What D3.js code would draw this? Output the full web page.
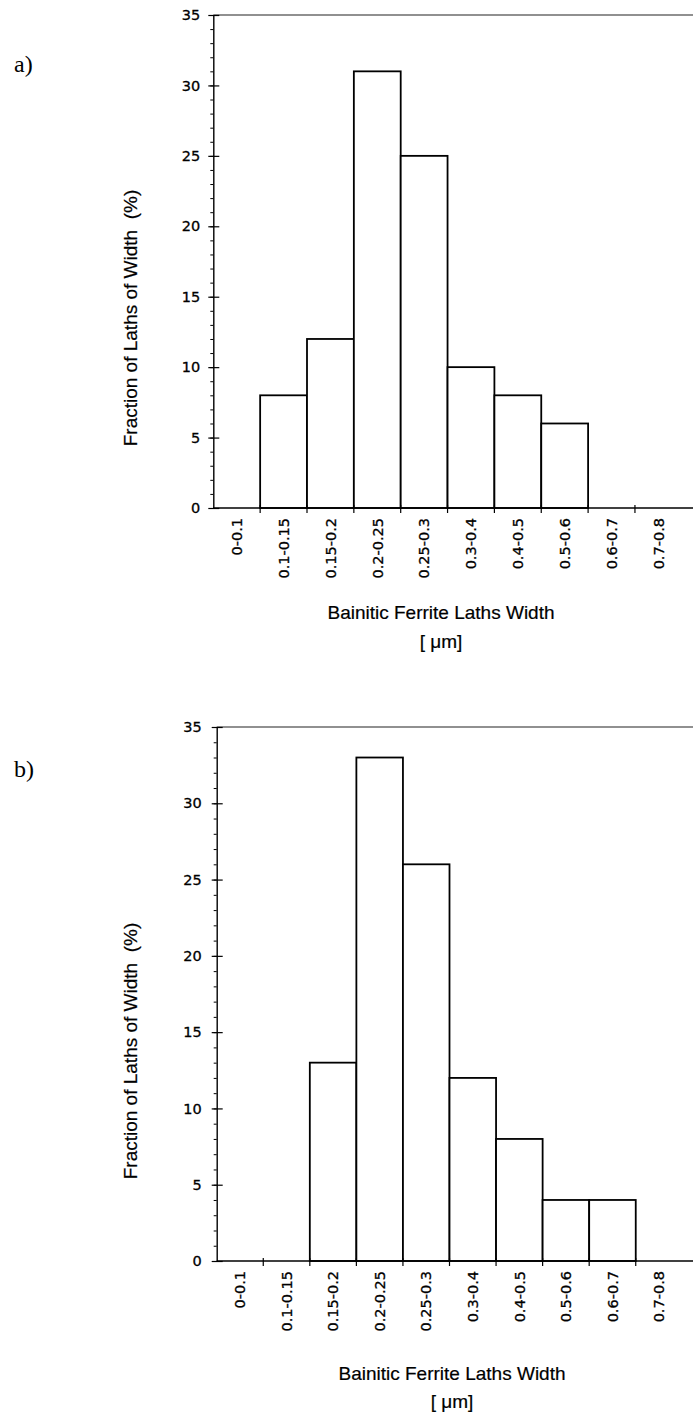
<!DOCTYPE html>
<html>
<head>
<meta charset="utf-8">
<script src="https://cdn.jsdelivr.net/npm/d3@7"></script>
<style>
  body { margin: 0; background: #fff; }
  svg { display: block; }
  .tick-label { font-family: "DejaVu Sans", sans-serif; font-size: 14.5px; fill: #000; stroke: #000; stroke-width: 0.3px; }
  .title { font-family: "Liberation Sans", Arial, sans-serif; font-size: 19px; fill: #000; stroke: #000; stroke-width: 0.2px; white-space: pre; }
  .panel-label { font-family: "Liberation Serif", "Times New Roman", serif; font-size: 24px; fill: #000; }
</style>
</head>
<body>
<script>
// lath width classes (um) and fraction of laths (%) for the two samples
var categories = ["0-0.1", "0.1-0.15", "0.15-0.2", "0.2-0.25", "0.25-0.3",
                  "0.3-0.4", "0.4-0.5", "0.5-0.6", "0.6-0.7", "0.7-0.8"];
var fractionA = [0, 8, 12, 31, 25, 10, 8, 6, 0, 0];
var fractionB = [0, 0, 13, 33, 26, 12, 8, 4, 4, 0];
var yMajorTicks = [0, 5, 10, 15, 20, 25, 30, 35];
var yMinorTicks = d3.range(0, 36, 1);

var xTitle = "Bainitic Ferrite Laths Width";
var xUnit = "[ \u03bcm]";
var yTitle = "Fraction of Laths of Width  (%)";

var W = 693, H = 1414;
var svg = d3.select("body").append("svg")
  .attr("width", W).attr("height", H);

/**
 * Draw one histogram panel.
 * p: layout of the panel (pixel positions), values: bar heights
 */
function drawPanel(p, values) {
  var g = svg.append("g");

  var x = d3.scaleBand().domain(categories)
    .range([p.left, p.right]).padding(0);
  var y = d3.scaleLinear().domain([0, 35]).range([p.bottom, p.top]);

  // frame: top line and x axis line run to the page edge
  g.append("line")
    .attr("x1", p.left).attr("x2", W).attr("y1", p.top).attr("y2", p.top)
    .attr("stroke", "#222").attr("stroke-width", 1.2);

  // bars
  g.selectAll("rect.bar")
    .data(categories.map((c, i) => ({c: c, v: values[i]})).filter(d => d.v > 0))
    .enter().append("rect")
    .attr("class", "bar")
    .attr("x", d => x(d.c))
    .attr("y", d => y(d.v))
    .attr("width", x.bandwidth())
    .attr("height", d => y(0) - y(d.v))
    .attr("fill", "#fff")
    .attr("stroke", "#000")
    .attr("stroke-width", 1.8);

  g.append("line")
    .attr("x1", p.left).attr("x2", W).attr("y1", p.bottom).attr("y2", p.bottom)
    .attr("stroke", "#000").attr("stroke-width", 1.4);

  // x ticks at class boundaries
  g.selectAll("line.xtick")
    .data(categories.slice(1))
    .enter().append("line")
    .attr("class", "xtick")
    .attr("x1", d => x(d)).attr("x2", d => x(d))
    .attr("y1", p.bottom - 3).attr("y2", p.bottom + 5)
    .attr("stroke", "#000").attr("stroke-width", 1.2);

  // x tick labels, rotated
  g.selectAll("text.xlab")
    .data(categories)
    .enter().append("text")
    .attr("class", "tick-label xlab")
    .attr("text-anchor", "end")
    .attr("dy", "0.36em")
    .attr("transform", d => "translate(" + (x(d) + x.bandwidth() / 2) + "," +
          (p.bottom + 10) + ") rotate(-90)")
    .text(d => d);

  // y axis: minor ticks then major ticks crossing the axis
  var minor = g.append("g")
    .attr("transform", "translate(" + p.left + ",0)")
    .call(d3.axisLeft(y).tickValues(yMinorTicks).tickSizeInner(3)
      .tickSizeOuter(0).tickFormat(""));
  minor.select(".domain").remove();
  minor.selectAll(".tick line").attr("stroke", "#000").attr("stroke-width", 1);

  var major = g.append("g")
    .attr("transform", "translate(" + p.left + ",0)")
    .call(d3.axisLeft(y).tickValues(yMajorTicks).tickSizeInner(5)
      .tickSizeOuter(0).tickPadding(p.labelGap - 5));
  major.select(".domain").attr("stroke", "#000").attr("stroke-width", 1.4);
  major.selectAll(".tick line").attr("x1", 6)
    .attr("stroke", "#000").attr("stroke-width", 1.2);
  major.selectAll(".tick text")
    .attr("class", "tick-label")
    .attr("font-family", null).attr("font-size", null);

  // titles
  g.append("text").attr("class", "title")
    .attr("x", p.xTitleX).attr("y", p.xTitleY)
    .attr("text-anchor", "middle").text(xTitle);
  g.append("text").attr("class", "title")
    .attr("x", p.xTitleX).attr("y", p.unitY)
    .attr("text-anchor", "middle").text(xUnit);
  g.append("text").attr("class", "title")
    .attr("text-anchor", "middle")
    .attr("transform", "translate(" + p.yTitleX + "," + p.yTitleY + ") rotate(-90)")
    .text(yTitle);

  g.append("text").attr("class", "panel-label")
    .attr("x", p.labelX).attr("y", p.labelY).text(p.label);
}

drawPanel({
  left: 213.3, right: 681.8, top: 15, bottom: 508, labelGap: 13,
  xTitleX: 441, xTitleY: 619, unitY: 648,
  yTitleX: 136.5, yTitleY: 318,
  label: "a)", labelX: 14, labelY: 72
}, fractionA);

drawPanel({
  left: 216.7, right: 682.3, top: 727, bottom: 1261, labelGap: 15,
  xTitleX: 452, xTitleY: 1380, unitY: 1408,
  yTitleX: 137, yTitleY: 1051,
  label: "b)", labelX: 14, labelY: 777
}, fractionB);
</script>
</body>
</html>
